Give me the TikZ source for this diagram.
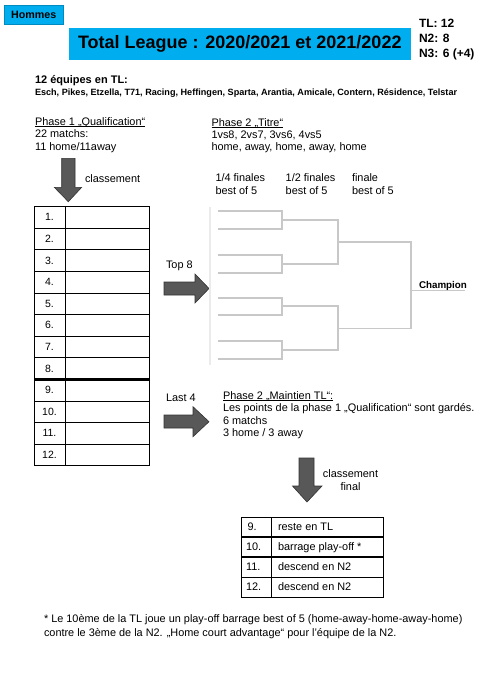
\documentclass[tikz,border=0pt]{standalone}
\usepackage{fontspec}
\setmainfont{Liberation Sans}
\definecolor{hblue}{RGB}{0,174,239}
\definecolor{agray}{RGB}{88,88,88}
\definecolor{adark}{RGB}{50,50,50}
\definecolor{bgray}{RGB}{200,200,200}
\definecolor{lgray}{RGB}{235,235,235}
\begin{document}
\begin{tikzpicture}[x=1pt,y=-1pt,
  every node/.style={inner sep=0pt,outer sep=0pt},
  txt/.style={anchor=base west,font=\fontsize{10.9}{12}\selectfont},
  btxt/.style={anchor=base west,font=\fontsize{10}{12}\bfseries\selectfont},
  num/.style={anchor=base,font=\fontsize{10.5}{11}\selectfont},
  blockarrow/.style={fill=agray,draw=adark,line width=0.6pt,line join=miter},
  tabline/.style={draw=black,line width=0.7pt},
  thick line/.style={draw=black,line width=2.8pt},
  uline/.style={draw=black,line width=0.6pt},
  brk/.style={draw=bgray,line width=1.3pt}
]
\useasboundingbox (0,0) rectangle (489,675);

% header boxes
\node[fill=hblue,draw=hblue!80!black,line width=0.3pt,minimum width=59,minimum height=19.6,font=\fontsize{10.7}{12}\bfseries\selectfont] (hommes) at (33.8,14.5) {Hommes};
\node[fill=hblue,minimum width=341.7,minimum height=32,font=\fontsize{18}{22}\bfseries\selectfont] (title) at (239.8,44.3) {Total League : 2020/2021 et 2021/2022};
\node[btxt,font=\fontsize{12}{13}\bfseries\selectfont] (tl) at (419,27.3) {TL: 12};
\node[btxt,font=\fontsize{12}{13}\bfseries\selectfont] (n2) at (419,42.3) {N2: 8};
\node[btxt,font=\fontsize{12}{13}\bfseries\selectfont] (n3) at (419,57.3) {N3: 6 (+4)};

% teams
\node[btxt,font=\fontsize{11}{12}\bfseries\selectfont] (eq) at (35,83.3) {12 équipes en TL:};
\node[btxt,font=\fontsize{9.1}{10}\bfseries\selectfont] (teams) at (35,95.5) {Esch, Pikes, Etzella, T71, Racing, Heffingen, Sparta, Arantia, Amicale, Contern, Résidence, Telstar};

% phase 1
\node[txt] (p1h) at (35,125) {Phase 1 „Qualification“};
\draw[uline] ([yshift=-1.4pt]p1h.base west) -- ([yshift=-1.4pt]p1h.base east);
\node[txt] (p1a) at (35,137.5) {22 matchs:};
\node[txt] (p1b) at (35,150) {11 home/11away};

% phase 2 titre
\node[txt] (p2h) at (211.5,126) {Phase 2 „Titre“};
\draw[uline] ([yshift=-1.4pt]p2h.base west) -- ([yshift=-1.4pt]p2h.base east);
\node[txt] (p2a) at (211.5,138.3) {1vs8, 2vs7, 3vs6, 4vs5};
\node[txt] (p2b) at (211.5,150.6) {home, away, home, away, home};
\node[txt] (qf1) at (215.5,181.7) {1/4 finales};
\node[txt] (qf2) at (215.5,194) {best of 5};
\node[txt] (sf1) at (285.7,181.7) {1/2 finales};
\node[txt] (sf2) at (285.7,194) {best of 5};
\node[txt] (f1) at (352,181.7) {finale};
\node[txt] (f2) at (352,194) {best of 5};

% down arrow 1
\draw[blockarrow] (61.7,158.3) -- (75,158.3) -- (75,187.3) -- (81.7,187.3) -- (68.3,201.7) -- (54.3,187.3) -- (61.7,187.3) -- cycle;
\node[txt] (cl1) at (85,182.7) {classement};

% ranking table
\foreach \i in {1,...,12}{
  \node[num] (r\i) at (49.5,{206.5+21.6*\i-7.3}) {\i.};
}
\foreach \i in {1,...,11}{
  \draw[tabline] (34,{206.5+21.6*\i}) -- (149,{206.5+21.6*\i});
}
\draw[tabline] (34,206.5) rectangle (149,465.7);
\draw[tabline] (65.7,206.5) -- (65.7,465.7);
\draw[thick line] (34,{206.5+21.6*8}) -- (149,{206.5+21.6*8});

% top 8 arrow
\node[txt] (top8) at (166,268.5) {Top 8};
\draw[blockarrow] (164,282) -- (195,282) -- (195,274) -- (209,288.5) -- (195,303) -- (195,295) -- (164,295) -- cycle;

% bracket
\draw[draw=lgray,line width=1.2pt] (210,207) -- (210,365);
\foreach \a/\b in {211/229,255/273,298/315,341/359}{
  \draw[brk] (218,\a) -- (282,\a) -- (282,\b) -- (218,\b);
}
\draw[brk] (282,220) -- (338,220) -- (338,264) -- (282,264);
\draw[brk] (282,306) -- (338,306) -- (338,350) -- (282,350);
\draw[brk] (338,242) -- (411,242) -- (411,328.5) -- (338,328.5);
\coordinate (champl) at (465,290.5);
\draw[brk] (411,290.5) -- (champl);
\node[btxt,font=\fontsize{9.8}{11}\bfseries\selectfont] (champ) at (419,288) {Champion};

% last 4 arrow
\node[txt] (last4) at (166,401.7) {Last 4};
\draw[blockarrow] (164,415) -- (193,415) -- (193,406.7) -- (209,421.7) -- (193,436.7) -- (193,428) -- (164,428) -- cycle;

% phase 2 maintien
\node[txt] (p3h) at (223,399) {Phase 2 „Maintien TL“:};
\draw[uline] ([yshift=-1.4pt]p3h.base west) -- ([yshift=-1.4pt]p3h.base east);
\node[txt] (p3a) at (223,411.7) {Les points de la phase 1 „Qualification“ sont gardés.};
\node[txt] (p3b) at (223,424.3) {6 matchs};
\node[txt] (p3c) at (223,436.8) {3 home / 3 away};

% down arrow 2
\draw[blockarrow] (299,458) -- (314,458) -- (314,486) -- (322,486) -- (307,502) -- (292.5,486) -- (299,486) -- cycle;
\node[txt,anchor=base] (cl2a) at (350.5,477.5) {classement};
\node[txt,anchor=base] (cl2b) at (350.5,490.5) {final};

% final table
\draw[tabline] (241,517) rectangle (383,597);
\draw[tabline] (271,517) -- (271,597);
\draw[thick line] (241,537) -- (383,537);
\draw[thick line] (241,557) -- (383,557);
\draw[tabline] (241,577) -- (383,577);
\node[txt] (t9) at (247.5,530.8) {9.};
\node[txt] (t10) at (246,550.8) {10.};
\node[txt] (t11) at (246,570.8) {11.};
\node[txt] (t12) at (246,590.8) {12.};
\node[txt] (l9) at (278,530.8) {reste en TL};
\node[txt] (l10) at (278,550.8) {barrage play-off *};
\node[txt] (l11) at (278,570.8) {descend en N2};
\node[txt] (l12) at (278,590.8) {descend en N2};

% footnote
\node[txt] (fn1) at (44,622.7) {* Le 10ème de la TL joue un play-off barrage best of 5 (home-away-home-away-home)};
\node[txt] (fn2) at (44,636.7) {contre le 3ème de la N2. „Home court advantage“ pour l'équipe de la N2.};
\end{tikzpicture}
\end{document}
